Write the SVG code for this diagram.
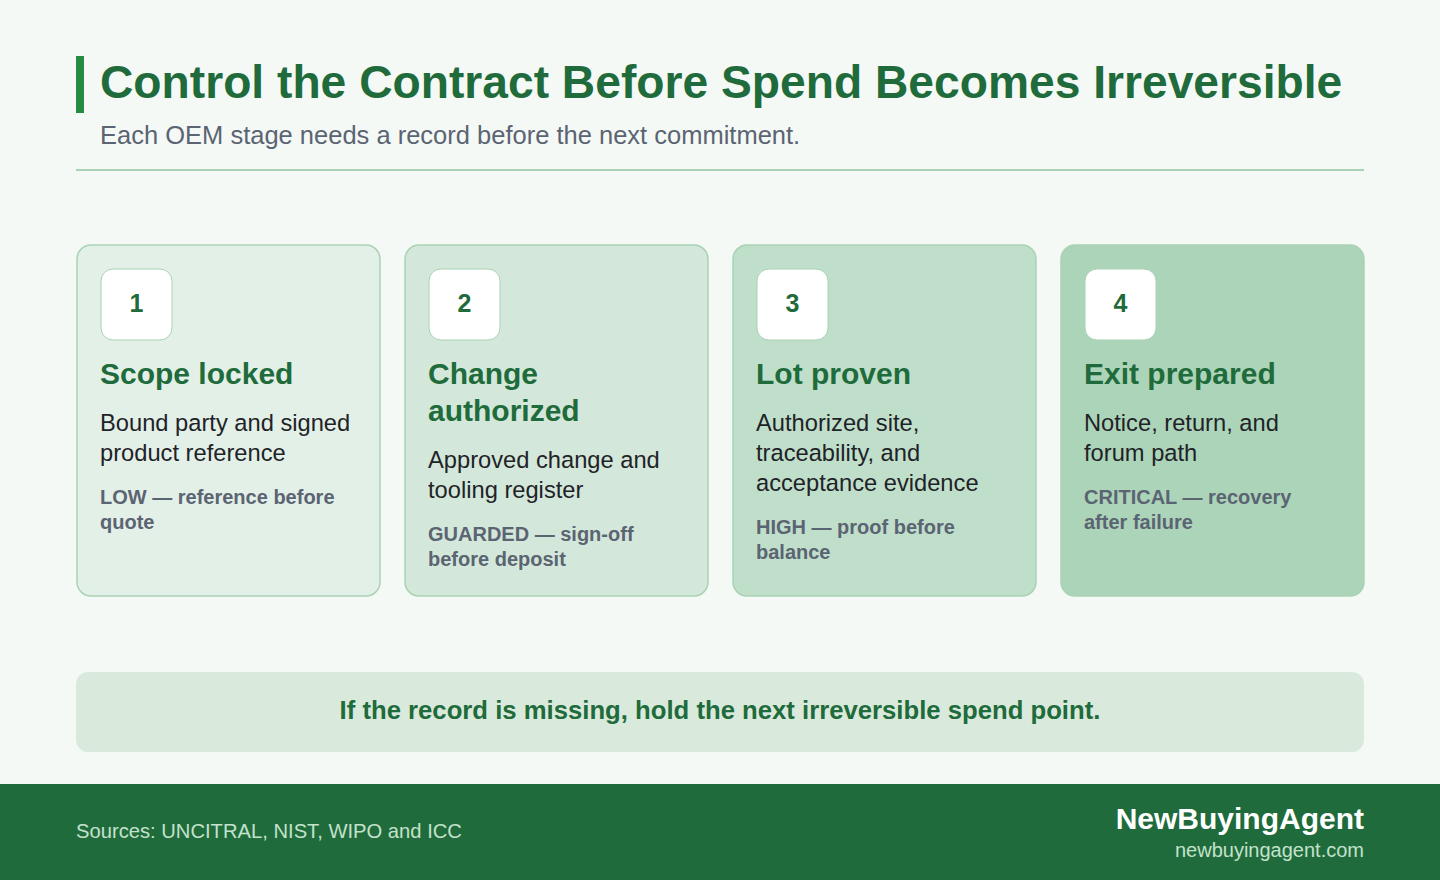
<svg xmlns="http://www.w3.org/2000/svg" width="1440" height="880" viewBox="0 0 1440 880">
<style>
text{font-family:"Liberation Sans",Arial,sans-serif}
.title{font-size:46.2px;font-weight:bold;fill:#1f6b3b}
.sub{font-size:25.5px;fill:#5b6472}
.card{stroke:#a9d2b5;stroke-width:1.5}
.badge{fill:#ffffff;stroke:#a9d2b5;stroke-width:1}
.num{font-size:25px;font-weight:bold;fill:#1f6b3b;text-anchor:middle}
.head{font-size:30px;font-weight:bold;fill:#1f6b3b}
.body{font-size:23.7px;fill:#1f2328}
.risk{font-size:20px;font-weight:bold;fill:#5b6472}
.banner{font-size:25.7px;font-weight:bold;fill:#1f6b3b;text-anchor:middle}
.src{font-size:20.2px;fill:#c3e2cb}
.brand{font-size:30px;font-weight:bold;fill:#ffffff;text-anchor:end}
.url{font-size:20px;fill:#c3e2cb;text-anchor:end}
</style>
<rect width="1440" height="880" fill="#f4f9f5"/>
<g id="header">
<rect x="76" y="56" width="8" height="57" fill="#248a44"/>
<text class="title" x="100" y="98">Control the Contract Before Spend Becomes Irreversible</text>
<text class="sub" x="100" y="144">Each OEM stage needs a record before the next commitment.</text>
<rect x="76" y="169" width="1288" height="2" fill="#a9d2b5"/>
</g>
<g id="connectors"></g>
<g id="stage1">
<rect class="card" x="77" y="245" width="303" height="351" rx="14" fill="#e3f0e7"/>
<rect class="badge" x="101" y="269" width="71" height="71" rx="12"/>
<text class="num" x="136.5" y="312">1</text>
<text class="head" x="100" y="384">Scope locked</text>
<text class="body" x="100" y="431">Bound party and signed</text>
<text class="body" x="100" y="461">product reference</text>
<text class="risk" x="100" y="504">LOW — reference before</text>
<text class="risk" x="100" y="529">quote</text>
</g>
<g id="stage2">
<rect class="card" x="405" y="245" width="303" height="351" rx="14" fill="#d3e8da"/>
<rect class="badge" x="429" y="269" width="71" height="71" rx="12"/>
<text class="num" x="464.5" y="312">2</text>
<text class="head" x="428" y="384">Change</text>
<text class="head" x="428" y="421">authorized</text>
<text class="body" x="428" y="468">Approved change and</text>
<text class="body" x="428" y="498">tooling register</text>
<text class="risk" x="428" y="541">GUARDED — sign-off</text>
<text class="risk" x="428" y="566">before deposit</text>
</g>
<g id="stage3">
<rect class="card" x="733" y="245" width="303" height="351" rx="14" fill="#c0dfcb"/>
<rect class="badge" x="757" y="269" width="71" height="71" rx="12"/>
<text class="num" x="792.5" y="312">3</text>
<text class="head" x="756" y="384">Lot proven</text>
<text class="body" x="756" y="431">Authorized site,</text>
<text class="body" x="756" y="461">traceability, and</text>
<text class="body" x="756" y="491">acceptance evidence</text>
<text class="risk" x="756" y="534">HIGH — proof before</text>
<text class="risk" x="756" y="559">balance</text>
</g>
<g id="stage4">
<rect class="card" x="1061" y="245" width="303" height="351" rx="14" fill="#acd4b9"/>
<rect class="badge" x="1085" y="269" width="71" height="71" rx="12"/>
<text class="num" x="1120.5" y="312">4</text>
<text class="head" x="1084" y="384">Exit prepared</text>
<text class="body" x="1084" y="431">Notice, return, and</text>
<text class="body" x="1084" y="461">forum path</text>
<text class="risk" x="1084" y="504">CRITICAL — recovery</text>
<text class="risk" x="1084" y="529">after failure</text>
</g>
<g id="banner">
<rect x="76" y="672" width="1288" height="80" rx="12" fill="#d9eadd"/>
<text class="banner" x="720" y="719">If the record is missing, hold the next irreversible spend point.</text>
</g>
<g id="footer">
<rect x="0" y="784" width="1440" height="96" fill="#206b3c"/>
<text class="src" x="76" y="838">Sources: UNCITRAL, NIST, WIPO and ICC</text>
<text class="brand" x="1364" y="829">NewBuyingAgent</text>
<text class="url" x="1364" y="857">newbuyingagent.com</text>
</g>
</svg>
